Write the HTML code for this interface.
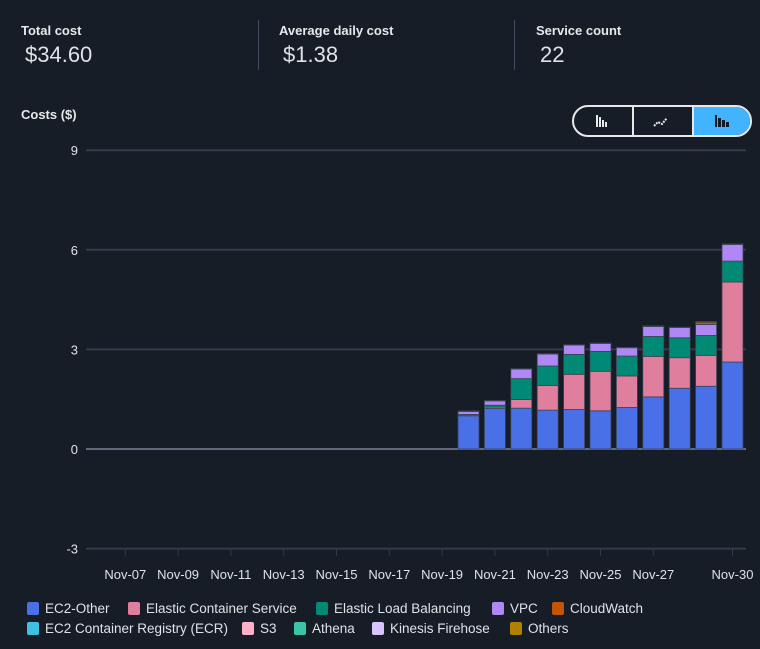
<!DOCTYPE html>
<html><head><meta charset="utf-8"><style>
body{margin:0;background:#161d27;font-family:"Liberation Sans",sans-serif;color:#e6e8ea;width:760px;height:649px;overflow:hidden;position:relative}
.k{position:absolute;font-size:13px;font-weight:bold;top:23px}
.v{position:absolute;font-size:22px;top:42px;color:#dfe2e6}
.div{position:absolute;top:20px;width:1px;height:50px;background:#414d5c}
.tog{position:absolute;left:572px;top:105px;width:176px;height:28px;border:2px solid #e6e8ea;border-radius:16px;overflow:hidden;display:flex}
.tog div{flex:1;border-right:2px solid #e6e8ea;position:relative}
.tog div:last-child{border-right:none;background:#42b4ff}
.leg{position:absolute;font-size:13.5px;color:#dfe2e6;display:flex;align-items:center;white-space:nowrap}
.leg i{display:inline-block;width:12px;height:13px;border-radius:2px;margin-right:6px}
</style></head><body>
<div class="k" style="left:21px">Total cost</div>
<div class="v" style="left:25px">$34.60</div>
<div class="div" style="left:258px"></div>
<div class="k" style="left:279px">Average daily cost</div>
<div class="v" style="left:283px">$1.38</div>
<div class="div" style="left:514px"></div>
<div class="k" style="left:536px">Service count</div>
<div class="v" style="left:540px">22</div>
<div class="k" style="left:21px;top:107px">Costs ($)</div>
<div class="tog">
<div><svg width="58" height="28"><rect x="22" y="8" width="2" height="12" fill="#e6e8ea"/><rect x="25" y="10" width="2" height="10" fill="#e6e8ea"/><rect x="28" y="13" width="2" height="7" fill="#e6e8ea"/><rect x="31" y="15" width="2" height="5" fill="#e6e8ea"/></svg></div>
<div><svg width="58" height="28"><polyline points="20,19 24,15 28,17 33,11" fill="none" stroke="#e6e8ea" stroke-width="2" stroke-dasharray="2,1"/></svg></div>
<div><svg width="58" height="28"><rect x="21" y="8" width="2" height="12" fill="#0f1b2a"/><rect x="24" y="11" width="3" height="9" fill="#0f1b2a"/><rect x="28" y="13" width="3" height="7" fill="#0f1b2a"/><rect x="32" y="15" width="3" height="5" fill="#0f1b2a"/></svg></div>
</div>
<svg id="chart" width="760" height="600" style="position:absolute;left:0;top:0"></svg>
<div id="legend"></div>
<script>
const days=[20,21,22,23,24,25,26,27,28,29,30];
const ec2=[1.0,1.22,1.23,1.17,1.19,1.15,1.25,1.57,1.83,1.89,2.62];
const ecs=[0.03,0.04,0.26,0.74,1.06,1.19,0.95,1.22,0.92,0.93,2.41];
const elb=[0.01,0.06,0.63,0.59,0.6,0.6,0.6,0.6,0.6,0.6,0.63];
const vpc=[0.09,0.13,0.29,0.36,0.28,0.24,0.25,0.3,0.31,0.33,0.5];
const cw=[0,0,0,0,0,0,0,0,0,0.07,0];
const oth=[0.02,0.01,0.01,0.01,0.01,0.01,0.01,0.02,0.01,0.02,0.02];
const yTicks=[9,6,3,0,-3];
const xTickDays=[7,9,11,13,15,17,19,21,23,25,27,30];
const series=[["ec2-other",ec2,"#4a70e8"],["elastic-container-service",ecs,"#e07f9d"],["elastic-load-balancing",elb,"#008a75"],["vpc",vpc,"#b088f5"],["cloudwatch",cw,"#c55305"],["others",oth,"#b08000"]];
const y=v=>449-v*33.2;
const x=d=>125.3+(d-7)*26.4;
const svg=document.getElementById('chart');
const NS="http://www.w3.org/2000/svg";
function mk(t,a){const e=document.createElementNS(NS,t);for(const k in a)e.setAttribute(k,a[k]);svg.appendChild(e);return e;}
yTicks.forEach(t=>{
 const l=mk('line',{x1:86,x2:746,y1:y(t),y2:y(t),stroke:t===0?'#5f6b7a':'#333c48','stroke-width':2});
 
 
 const tx=mk('text',{x:78,y:y(t)+5,'text-anchor':'end',fill:'#dfe2e6','font-size':13});
 tx.textContent=t;
 
 
});
xTickDays.forEach(d=>{
 const l=mk('line',{x1:x(d),x2:x(d),y1:y(-3)+1,y2:y(-3)+7,stroke:'#333c48','stroke-width':1});
 
 
 const tx=mk('text',{x:x(d),y:579,'text-anchor':'middle',fill:'#dfe2e6','font-size':13});
 tx.textContent='Nov-'+String(d).padStart(2,'0');
 
 
});
days.forEach((d,i)=>{
 let acc=0;
 series.forEach(([n,arr,c])=>{
  const v=arr[i]; if(!v)return;
  const r=mk('rect',{x:x(d)-10.5,y:y(acc+v),width:21,height:v*33.2,fill:c,stroke:'#3a4454','stroke-width':0.8});
  
  
  acc+=v;
 });
});
const legItems=[["EC2-Other","#4a70e8",27,610],["Elastic Container Service","#e07f9d",128,610],["Elastic Load Balancing","#008a75",316,610],["VPC","#b088f5",492,610],["CloudWatch","#c55305",552,610],["EC2 Container Registry (ECR)","#3fbfe4",27,630],["S3","#ffb0c8",242,630],["Athena","#3cc4a8",294,630],["Kinesis Firehose","#d8c2ff",372,630],["Others","#b08000",510,630]];
const lg=document.getElementById('legend');
legItems.forEach(([t,c,lx,ly])=>{
 const e=document.createElement('div');
 e.className='leg';
 e.style.left=lx+'px';e.style.top=(ly-9)+'px';
 e.innerHTML='<i style="background:'+c+'"></i>'+t;
 
 
 lg.appendChild(e);
});
</script>
</body></html>
